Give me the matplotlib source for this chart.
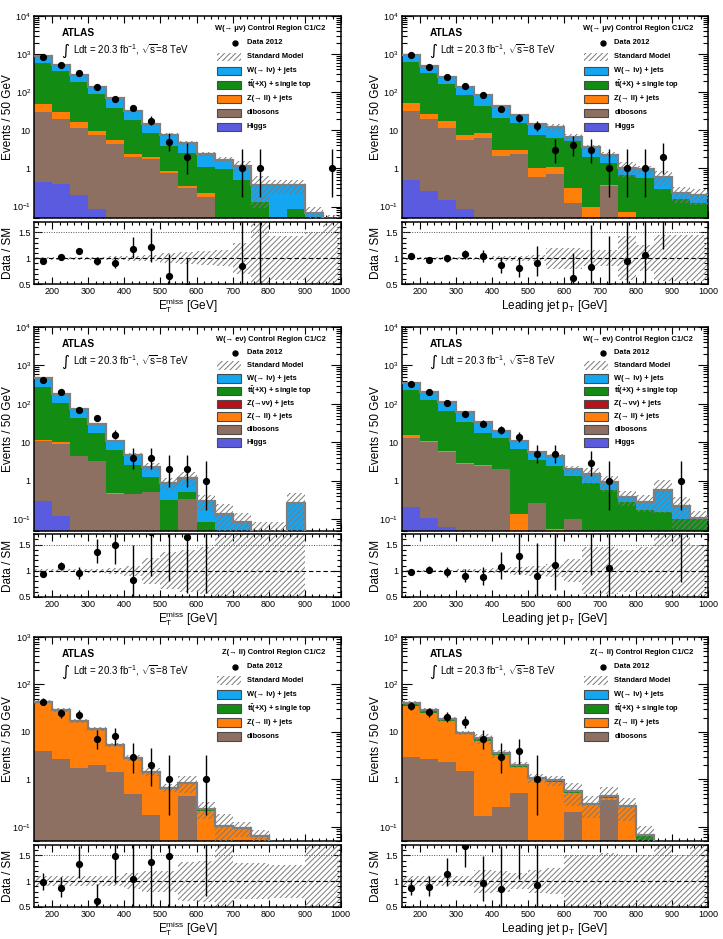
import math
import numpy as np
import matplotlib
matplotlib.use("Agg")
import matplotlib.pyplot as plt
from matplotlib.patches import Rectangle
from matplotlib.ticker import MultipleLocator, LogLocator, NullFormatter, FuncFormatter, FixedLocator

plt.rcParams['font.family'] = ['Liberation Sans', 'DejaVu Sans']
plt.rcParams['mathtext.fontset'] = 'custom'
plt.rcParams['mathtext.rm'] = 'Liberation Sans'
plt.rcParams['mathtext.it'] = 'Liberation Sans:italic'
plt.rcParams['mathtext.bf'] = 'Liberation Sans:bold'
plt.rcParams['hatch.color'] = '#7a7a7a'
plt.rcParams['hatch.linewidth'] = 0.7

# ---------------- data ----------------
bin_edges = list(range(150, 1001, 50))

# Panel 1: W(->mu nu), MET
p1_data  = [815, 520, 320, 133, 65, 38, 18, 5, 2, 0, 0, 1, 1, 0, 0, 0, 1]
p1_higgs = [0.44, 0.40, 0.2, 0.087, 0.03, 0.02, 0.01, 0, 0, 0, 0, 0, 0, 0, 0, 0, 0]
p1_dib   = [30, 20, 11.5, 7.6, 4.3, 1.95, 1.8, 0.75, 0.31, 0.18, 0, 0, 0, 0, 0, 0, 0]
p1_zll   = [20, 10, 4.5, 1.7, 1.1, 0.45, 0.2, 0.1, 0.04, 0.04, 0, 0, 0, 0, 0, 0, 0]
p1_tt    = [525, 340, 164, 78.6, 33.6, 16.1, 6.5, 2.95, 2.15, 0.88, 0.96, 0.51, 0.13, 0, 0.087, 0, 0]
p1_w     = [290, 140, 100, 53, 32, 13.5, 6.3, 3.9, 2.1, 1.3, 0.74, 0.67, 0.23, 0.36, 0.27, 0.066, 0.035]
p1_unc   = [0.03, 0.03, 0.03, 0.03, 0.04, 0.05, 0.06, 0.1, 0.12, 0.13, 0.15, 0.3, 0.75, 0.42, 0.42, 0.5, 0.75]

# Panel 2: W(->mu nu), leading jet pT
p2_data  = [955, 465, 250, 150, 85, 37, 21, 13, 3, 4, 3, 1, 1, 1, 2, 0, 0]
p2_higgs = [0.49, 0.26, 0.15, 0.085, 0.03, 0, 0, 0, 0, 0, 0, 0, 0, 0, 0, 0, 0]
p2_dib   = [31.5, 19.7, 11.5, 5.4, 6.3, 2.1, 2.4, 0.6, 0.73, 0.12, 0, 0.34, 0, 0, 0, 0, 0]
p2_zll   = [20, 7.5, 5.9, 2.2, 2.3, 1.0, 0.7, 0.42, 0.37, 0.18, 0.095, 0.02, 0.07, 0, 0, 0, 0]
p2_tt    = [578, 283, 150, 77, 35.4, 18.5, 12.9, 6.7, 5.2, 4.8, 1.95, 1.0, 0.59, 0.55, 0.29, 0.16, 0.12]
p2_w     = [290, 175, 83, 55, 38, 21.4, 10, 6.6, 5.7, 1.4, 1.55, 0.94, 0.39, 0.4, 0.31, 0.06, 0.08]
p2_unc   = [0.03, 0.03, 0.03, 0.03, 0.03, 0.05, 0.05, 0.06, 0.2, 0.2, 0.15, 0.15, 0.42, 0.25, 0.44, 0.44, 0.44]

# Panel 3: W(->e nu), MET
p3_data  = [430, 200, 70, 42, 16, 4, 4, 2, 2, 1, 0, 0, 0, 0, 0, 0, 0]
p3_higgs = [0.3, 0.12, 0.04, 0.02, 0, 0, 0, 0, 0, 0, 0, 0, 0, 0, 0, 0, 0]
p3_dib   = [10.5, 9.2, 4.3, 3.2, 0.45, 0.45, 0.52, 0, 0.33, 0, 0, 0, 0, 0, 0, 0, 0]
p3_zll   = [0.8, 0.8, 0.2, 0.1, 0.05, 0.01, 0.01, 0, 0, 0, 0, 0, 0, 0, 0, 0, 0]
p3_znn   = [0, 0, 0, 0, 0, 0, 0, 0, 0, 0, 0, 0, 0, 0, 0, 0, 0]
p3_tt    = [268, 98, 39.5, 14.4, 6.0, 2.14, 0.77, 0.32, 0.2, 0.086, 0, 0, 0, 0, 0, 0, 0]
p3_w     = [180, 74, 29, 13.3, 4.2, 2.2, 1.0, 0.55, 0.69, 0.21, 0.14, 0.086, 0.045, 0.045, 0.26, 0, 0]
p3_unc   = [0.03, 0.03, 0.03, 0.04, 0.06, 0.1, 0.25, 0.35, 0.4, 0.45, 0.75, 0.75, 0.9, 0.9, 0.92, 0, 0]

# Panel 4: W(->e nu), leading jet pT
p4_data  = [335, 210, 108, 55, 31, 21, 14, 5, 5, 0, 3, 1, 0, 0, 0, 1, 0]
p4_higgs = [0.21, 0.107, 0.065, 0, 0, 0, 0, 0, 0, 0, 0, 0, 0, 0, 0, 0, 0]
p4_dib   = [13.2, 10.2, 5.5, 2.7, 2.4, 2.0, 0.05, 0.26, 0, 0.1, 0, 0, 0, 0, 0, 0, 0]
p4_zll   = [2.0, 0.7, 0.45, 0.15, 0.2, 0.1, 0.09, 0.01, 0.055, 0, 0, 0, 0, 0, 0, 0, 0]
p4_znn   = [0, 0, 0, 0, 0, 0, 0, 0, 0, 0, 0, 0, 0, 0, 0, 0, 0]
p4_tt    = [209, 119, 61, 31.6, 15.4, 11.3, 6.45, 3.23, 2.35, 1.28, 0.9, 0.59, 0.29, 0.18, 0.16, 0.1, 0.1]
p4_w     = [116, 76, 43, 26.5, 17, 6.2, 4.4, 2.0, 2.1, 0.62, 0.6, 0.36, 0.09, 0.11, 0.43, 0.12, 0.01]
p4_unc   = [0.02, 0.02, 0.02, 0.03, 0.04, 0.05, 0.08, 0.1, 0.12, 0.22, 0.45, 0.45, 0.4, 0.45, 0.75, 0.75, 0.5]

# Panel 5: Z(->ll), MET
p5_data  = [43, 25, 23, 7, 8, 3, 2, 1, 0, 1, 0, 0, 0, 0, 0, 0, 0]
p5_dib   = [3.9, 2.7, 1.75, 2.0, 1.45, 0.5, 0.18, 0, 0.45, 0, 0, 0, 0, 0, 0, 0, 0]
p5_zll   = [36.5, 24.5, 14.5, 8.9, 3.7, 2.2, 1.2, 0.64, 0.33, 0.21, 0.1, 0.095, 0.063, 0.02, 0.02, 0.01, 0.01]
p5_tt    = [2.5, 1.5, 0.8, 0.5, 0.2, 0.15, 0.05, 0.02, 0.05, 0.02, 0.005, 0, 0, 0, 0, 0, 0]
p5_w     = [0.6, 0.3, 0.2, 0.1, 0.05, 0.03, 0.02, 0.01, 0.01, 0.01, 0, 0, 0, 0, 0, 0, 0]
p5_unc   = [0.1, 0.1, 0.1, 0.1, 0.1, 0.15, 0.2, 0.2, 0.38, 0.4, 0.75, 0.35, 0.35, 0.32, 0.32, 0.75, 0.75]

# Panel 6: Z(->ll), leading jet pT
p6_data  = [35, 26, 21, 16, 7, 3, 4, 1, 0, 0, 0, 0, 0, 0, 0, 0, 0]
p6_dib   = [2.9, 2.7, 2.3, 1.5, 0.17, 0.26, 0.52, 0, 0, 0.2, 0, 0.36, 0, 0, 0, 0, 0]
p6_zll   = [32, 22.3, 14.7, 7.3, 6.4, 3.0, 1.34, 1.0, 0.89, 0.32, 0.29, 0.05, 0.26, 0, 0.01, 0.01, 0.01]
p6_tt    = [3.5, 3.0, 1.0, 0.5, 0.5, 0.2, 0.12, 0.07, 0.05, 0.04, 0.01, 0.03, 0.01, 0.068, 0, 0, 0]
p6_w     = [1.6, 1.0, 0.3, 0.2, 0.2, 0.05, 0.02, 0.01, 0.01, 0, 0, 0, 0, 0, 0, 0, 0]
p6_unc   = [0.1, 0.1, 0.1, 0.1, 0.22, 0.2, 0.15, 0.22, 0.25, 0.5, 0.5, 0.55, 0.5, 0.5, 0.9, 0.5, 0.9]

# ---------------- style ----------------
C_W = '#15a6f2'
C_TT = '#128c12'
C_ZLL = '#ff7f0a'
C_ZNN = '#b5121b'
C_DIB = '#8e7062'
C_HIG = '#5b5be0'
C_TOT = '#7f7f7f'
C_HATCH = '#7a7a7a'
HATCH = '//////'

LBL_W = u'W(\u2192 l\u03bd) + jets'
LBL_TT = r'$\mathbf{t\bar{t}}$(+X) + single top'
LBL_ZNN = u'Z(\u2192\u03bd\u03bd) + jets'
LBL_ZLL = u'Z(\u2192 ll) + jets'
LBL_DIB = 'dibosons'
LBL_HIG = 'Higgs'

XL_MET = r'$\mathrm{E}_{\rm T}^{\rm miss}$ [GeV]'
XL_PT = r'Leading jet p$_{\rm T}$ [GeV]'

W_PX, H_PX = 723, 939
fig = plt.figure(figsize=(W_PX / 100, H_PX / 100), dpi=100)
fig.patch.set_facecolor('white')

COLS = [(34.3, 340.7), (401.7, 708.3)]
ROWS_MAIN = [(16, 218), (327, 531), (637, 841)]
ROWS_RATIO = [(222, 284), (534, 597), (845, 907)]


def rect(x0, x1, y0, y1):
    return [x0 / W_PX, 1 - y1 / H_PX, (x1 - x0) / W_PX, (y1 - y0) / H_PX]


ALPHA = 0.158655


def pois_cdf(n, mu):
    s = 0.0
    term = math.exp(-mu)
    for k in range(n + 1):
        s += term
        term *= mu / (k + 1)
    return s


def garwood(n):
    if n <= 0:
        return 0.0, 1.84
    if n > 60:
        return n - math.sqrt(n), n + math.sqrt(n)
    lo, hi = 0.0, float(n)
    for _ in range(80):
        mid = 0.5 * (lo + hi)
        if 1 - pois_cdf(n - 1, mid) < ALPHA:
            lo = mid
        else:
            hi = mid
    low = 0.5 * (lo + hi)
    lo, hi = float(n), n + 10 * math.sqrt(n) + 10
    for _ in range(80):
        mid = 0.5 * (lo + hi)
        if pois_cdf(n, mid) > ALPHA:
            lo = mid
        else:
            hi = mid
    up = 0.5 * (lo + hi)
    return low, up


def logfmt(v, pos):
    if v <= 0:
        return ''
    e = int(round(math.log10(v)))
    if abs(v - 10 ** e) > 1e-9 * 10 ** e:
        return ''
    if e == 0:
        return '1'
    if e == 1:
        return '10'
    return r'$10^{%d}$' % e


def style_axis(ax):
    for sp in ax.spines.values():
        sp.set_linewidth(1.1)
    ax.tick_params(which='both', direction='in', top=True, right=True,
                   labelsize=6.5, pad=2.5, width=0.8)
    ax.tick_params(which='major', length=5)
    ax.tick_params(which='minor', length=2.5)
    ax.set_xlim(150, 1000)
    ax.xaxis.set_major_locator(MultipleLocator(100))
    ax.xaxis.set_minor_locator(MultipleLocator(20))


def draw_panel(col, row, comps, data, unc, ymax, title, xlabel, leg_pos):
    edges = np.array(bin_edges, dtype=float)
    centers = 0.5 * (edges[1:] + edges[:-1])
    nb = len(centers)
    x0, x1 = COLS[col]
    y0, y1 = ROWS_MAIN[row]
    r0, r1 = ROWS_RATIO[row]
    ax = fig.add_axes(rect(x0, x1, y0, y1))
    axr = fig.add_axes(rect(x0, x1, r0, r1))

    floor = 1e-4
    bottom = np.full(nb, floor)
    for vals, color, _lbl in comps:
        v = np.array(vals, dtype=float)
        top = bottom + v
        ax.stairs(top, edges, baseline=bottom, fill=True, facecolor=color,
                  edgecolor='none', linewidth=0, zorder=2)
        bottom = top
    total = bottom - floor
    u = np.array(unc, dtype=float)
    hi = np.where(total > 0, total * (1 + u), floor)
    lo = np.where(total > 0, np.maximum(total * (1 - u), floor), floor)
    ax.stairs(hi, edges, baseline=lo, fill=True, facecolor='none',
              edgecolor=C_HATCH, hatch=HATCH, linewidth=0, zorder=3)
    ax.stairs(np.where(total > 0, total, floor), edges, baseline=None,
              color=C_TOT, linewidth=1.6, zorder=4)

    d = np.array(data, dtype=float)
    m = d > 0
    errs = [garwood(int(n)) for n in data]
    elo = np.array([n - e[0] for n, e in zip(data, errs)])
    ehi = np.array([e[1] - n for n, e in zip(data, errs)])
    ax.errorbar(centers[m], d[m], yerr=[elo[m], ehi[m]], fmt='o', color='black',
                ms=4.2, elinewidth=1.0, capsize=0, zorder=6)

    ax.set_yscale('log')
    ax.set_ylim(0.05, ymax)
    style_axis(ax)
    ax.yaxis.set_major_locator(LogLocator(base=10, numticks=12))
    ax.yaxis.set_minor_locator(LogLocator(base=10, subs=np.arange(2, 10), numticks=12))
    ax.yaxis.set_major_formatter(FuncFormatter(logfmt))
    ax.yaxis.set_minor_formatter(NullFormatter())
    ax.tick_params(which='major', axis='y', length=7)
    ax.tick_params(which='minor', axis='y', length=3.5)
    ax.tick_params(labelbottom=False)
    ax.set_ylabel('Events / 50 GeV', fontsize=8.5)
    ax.yaxis.set_label_coords(-0.085, 0.5)
    ax.yaxis.label.set_va('center')
    ax.yaxis.label.set_ha('center')

    # ATLAS label
    ax.text(0.09, 0.915, 'ATLAS', transform=ax.transAxes, fontsize=7.3,
            fontweight='bold', va='center', ha='left', zorder=8)
    ax.text(0.088, 0.83, u'\u222b', transform=ax.transAxes, fontsize=11,
            va='center', ha='left', family=['DejaVu Sans'], zorder=8)
    ax.text(0.125, 0.835, r'Ldt = 20.3 fb$^{-1}$, $\sqrt{\rm s}$=8 TeV',
            transform=ax.transAxes, fontsize=7, va='center', ha='left', zorder=8)

    # Legend
    axh = y1 - y0
    d_title, d_first, step = leg_pos
    fy = lambda px: 1 - px / axh
    ax.text(0.95, fy(d_title), title, transform=ax.transAxes, fontsize=5.4,
            fontweight='bold', ha='right', va='center', zorder=8)
    bx0, bx1, tx = 0.596, 0.674, 0.694
    bh = 8.7 / axh
    yy = fy(d_first)
    ax.plot([0.655], [yy], 'o', color='black', ms=3.6, transform=ax.transAxes,
            clip_on=False, zorder=8)
    ax.text(tx, yy, 'Data 2012', transform=ax.transAxes, fontsize=5.4,
            fontweight='bold', ha='left', va='center', zorder=8)
    yy = fy(d_first + step)
    ax.add_patch(Rectangle((bx0, yy - bh / 2), bx1 - bx0, bh, transform=ax.transAxes,
                           facecolor='none', edgecolor=C_HATCH, hatch=HATCH,
                           linewidth=0, zorder=8))
    ax.text(tx, yy, 'Standard Model', transform=ax.transAxes, fontsize=5.4,
            fontweight='bold', ha='left', va='center', zorder=8)
    for i, (vals, color, lbl) in enumerate(reversed(comps)):
        yy = fy(d_first + step * (i + 2))
        ax.add_patch(Rectangle((bx0, yy - bh / 2), bx1 - bx0, bh, transform=ax.transAxes,
                               facecolor=color, edgecolor='#4a4a4a', linewidth=0.8,
                               zorder=8))
        ax.text(tx, yy, lbl, transform=ax.transAxes, fontsize=5.4,
                fontweight='bold', ha='left', va='center', zorder=8)

    # Ratio panel
    has = u > 0
    axr.stairs(np.where(has, 1 + u, 1.0), edges, baseline=np.where(has, 1 - u, 1.0),
               fill=True, facecolor='none', edgecolor=C_HATCH, hatch=HATCH,
               linewidth=0, zorder=2)
    axr.axhline(1.0, ls=(0, (4, 2.5)), color='black', lw=0.8, zorder=3)
    axr.axhline(1.5, ls=(0, (1, 1.5)), color='#555555', lw=0.7, zorder=3)
    mr = m & (total > 0)
    tsafe = np.where(total > 0, total, 1.0)
    axr.errorbar(centers[mr], (d / tsafe)[mr], yerr=[(elo / tsafe)[mr], (ehi / tsafe)[mr]],
                 fmt='o', color='black', ms=4.2, elinewidth=1.0, capsize=0, zorder=6)
    axr.set_ylim(0.5, 1.7)
    style_axis(axr)
    axr.yaxis.set_major_locator(FixedLocator([0.5, 1.0, 1.5]))
    axr.yaxis.set_minor_locator(MultipleLocator(0.1))
    axr.yaxis.set_major_formatter(FuncFormatter(lambda v, p: {0.5: '0.5', 1.0: '1', 1.5: '1.5'}.get(round(v, 2), '')))
    axr.tick_params(which='major', axis='y', length=6)
    axr.tick_params(which='minor', axis='y', length=3)
    axr.set_ylabel('Data / SM', fontsize=8.5)
    axr.yaxis.set_label_coords(-0.085, 0.5)
    axr.yaxis.label.set_va('center')
    axr.yaxis.label.set_ha('center')
    axr.set_xlabel(xlabel, fontsize=8.5)
    axr.xaxis.set_label_coords(0.5, -0.35)
    axr.xaxis.label.set_va('center')


LEG7 = (13.0, 27.0, 14.0)
LEG8 = (12.3, 25.7, 12.8)
LEG6 = (15.3, 29.7, 14.0)

draw_panel(0, 0, [(p1_higgs, C_HIG, LBL_HIG), (p1_dib, C_DIB, LBL_DIB), (p1_zll, C_ZLL, LBL_ZLL),
                  (p1_tt, C_TT, LBL_TT), (p1_w, C_W, LBL_W)],
           p1_data, p1_unc, 1e4, u'W(\u2192 \u03bc\u03bd) Control Region C1/C2', XL_MET, LEG7)
draw_panel(1, 0, [(p2_higgs, C_HIG, LBL_HIG), (p2_dib, C_DIB, LBL_DIB), (p2_zll, C_ZLL, LBL_ZLL),
                  (p2_tt, C_TT, LBL_TT), (p2_w, C_W, LBL_W)],
           p2_data, p2_unc, 1e4, u'W(\u2192 \u03bc\u03bd) Control Region C1/C2', XL_PT, LEG7)
draw_panel(0, 1, [(p3_higgs, C_HIG, LBL_HIG), (p3_dib, C_DIB, LBL_DIB), (p3_zll, C_ZLL, LBL_ZLL),
                  (p3_znn, C_ZNN, LBL_ZNN), (p3_tt, C_TT, LBL_TT), (p3_w, C_W, LBL_W)],
           p3_data, p3_unc, 1e4, u'W(\u2192 e\u03bd) Control Region C1/C2', XL_MET, LEG8)
draw_panel(1, 1, [(p4_higgs, C_HIG, LBL_HIG), (p4_dib, C_DIB, LBL_DIB), (p4_zll, C_ZLL, LBL_ZLL),
                  (p4_znn, C_ZNN, LBL_ZNN), (p4_tt, C_TT, LBL_TT), (p4_w, C_W, LBL_W)],
           p4_data, p4_unc, 1e4, u'W(\u2192 e\u03bd) Control Region C1/C2', XL_PT, LEG8)
draw_panel(0, 2, [(p5_dib, C_DIB, LBL_DIB), (p5_zll, C_ZLL, LBL_ZLL),
                  (p5_tt, C_TT, LBL_TT), (p5_w, C_W, LBL_W)],
           p5_data, p5_unc, 1e3, u'Z(\u2192 ll) Control Region C1/C2', XL_MET, LEG6)
draw_panel(1, 2, [(p6_dib, C_DIB, LBL_DIB), (p6_zll, C_ZLL, LBL_ZLL),
                  (p6_tt, C_TT, LBL_TT), (p6_w, C_W, LBL_W)],
           p6_data, p6_unc, 1e3, u'Z(\u2192 ll) Control Region C1/C2', XL_PT, LEG6)

fig.savefig('out.png', dpi=100, facecolor='white')
